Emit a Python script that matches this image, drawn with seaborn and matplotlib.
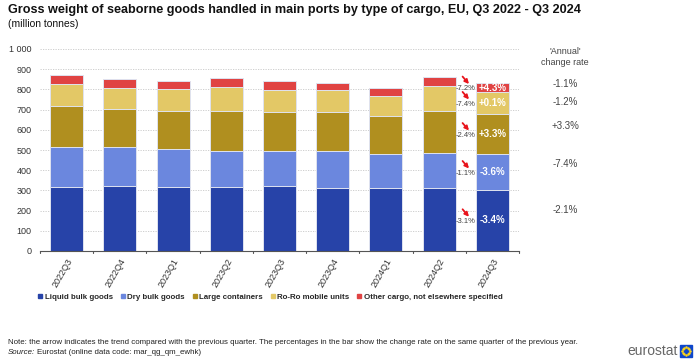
import numpy as np
import pandas as pd
import matplotlib
matplotlib.use('Agg')
import matplotlib.pyplot as plt
from matplotlib.lines import Line2D
from matplotlib.patches import Rectangle
import seaborn as sns

# Données (millions de tonnes)
quarters = ['2022Q3', '2022Q4', '2023Q1', '2023Q2', '2023Q3',
            '2023Q4', '2024Q1', '2024Q2', '2024Q3']
cargo_types = ['Liquid bulk goods', 'Dry bulk goods', 'Large containers',
               'Ro-Ro mobile units', 'Other cargo, not elsewhere specified']
liquid_bulk = [319, 322, 318, 315, 320, 314, 310, 313, 303]
dry_bulk = [198, 195, 187, 178, 175, 179, 168, 172, 175]
large_containers = [202, 187, 187, 202, 194, 193, 191, 210, 201]
roro_units = [107, 103, 108, 116, 107, 110, 98, 121, 107]
other_cargo = [43, 44, 43, 47, 45, 37, 41, 43, 45]

# Taux de variation (dernier trimestre)
annual_in_bar = ['-3.4%', '-3.6%', '+3.3%', '+0.1%', '+4.3%']   # bas -> haut
quarter_change = ['-3.1%', '-1.1%', '-2.4%', '-7.4%', '-7.2%']  # bas -> haut
annual_right = ['-2.1%', '-7.4%', '+3.3%', '-1.2%', '-1.1%']    # bas -> haut
annual_right_y = [203, 431, 620, 739, 828]

colors = ['#2743a8', '#6b87de', '#b08f1f', '#e3c866', '#e04343']

series = [liquid_bulk, dry_bulk, large_containers, roro_units, other_cargo]
df = pd.DataFrame({'quarter': quarters})
for name, vals in zip(cargo_types, series):
    df[name] = vals
cum = df[cargo_types].cumsum(axis=1)

sns.set_theme(style='white')
plt.rcParams['font.family'] = ['Liberation Sans', 'DejaVu Sans']

fig = plt.figure(figsize=(7, 3.63), dpi=100)
ax = fig.add_axes([40 / 700, 1 - 251 / 363, 479 / 700, 202 / 363])

# Barres empilées : on superpose les cumuls, du haut vers le bas
for i in range(len(cargo_types) - 1, -1, -1):
    sns.barplot(x=df['quarter'], y=cum[cargo_types[i]], color=colors[i],
                width=0.62, saturation=1, edgecolor='#dfe3f0', linewidth=0.7,
                ax=ax, zorder=2)

ax.set_xlim(-0.5, len(quarters) - 0.5)
ax.set_ylim(0, 1000)
ax.set_yticks(range(0, 1001, 100))
ax.set_yticklabels([f'{v:,}'.replace(',', ' ') for v in range(0, 1001, 100)],
                   fontsize=6.5, color='#333333')
ax.yaxis.grid(True, linestyle=(0, (1.5, 1.5)), color='#c8c8c8', linewidth=0.6, zorder=0)
ax.set_axisbelow(True)
ax.set_xlabel('')
ax.set_ylabel('')
for s in ['top', 'right', 'left']:
    ax.spines[s].set_visible(False)
ax.spines['bottom'].set_color('#555555')
ax.spines['bottom'].set_linewidth(0.8)

ax.set_xticks(range(len(quarters)))
ax.set_xticklabels(quarters, rotation=60, ha='right', rotation_mode='anchor',
                   fontsize=6.5, color='#333333')
ax.tick_params(axis='x', length=0, pad=4)
ax.tick_params(axis='y', length=0, pad=6)
# petites graduations entre catégories
for b in np.arange(-0.5, len(quarters), 1.0):
    ax.plot([b, b], [0, -12], color='#555555', lw=0.8, clip_on=False)

# Annotations sur la dernière barre
last = len(quarters) - 1
bottoms = [0] + list(cum.iloc[last, :-1])
for i in range(len(cargo_types)):
    h = series[i][last]
    yc = bottoms[i] + h / 2
    ax.text(last, yc, annual_in_bar[i], ha='center', va='center',
            color='white', fontsize=7, fontweight='bold', zorder=5)
    # flèche rouge + variation trimestrielle
    ax.annotate('', xy=(last - 0.44, yc + 18), xytext=(last - 0.56, yc + 55),
                arrowprops=dict(arrowstyle='-|>', color='#e8141c', lw=1.3,
                                mutation_scale=6, shrinkA=0, shrinkB=0),
                annotation_clip=False)
    ax.text(last - 0.5, yc - 5, quarter_change[i], ha='center', va='center',
            color='#444444', fontsize=5.5, zorder=5)

trans = matplotlib.transforms.blended_transform_factory(ax.transAxes, ax.transData)
for lab, yy in zip(annual_right, annual_right_y):
    ax.text(1.096, yy, lab, transform=trans, ha='center', va='center',
            fontsize=7, color='#444444', clip_on=False)
fig.text(565 / 700, 1 - 57 / 363, "'Annual'\nchange rate", ha='center', va='center',
         fontsize=6.5, color='#444444', linespacing=1.2)

# Titres
fig.text(8 / 700, 1 - 10 / 363, 'Gross weight of seaborne goods handled in main ports by type of cargo, EU, Q3 2022 - Q3 2024',
         fontsize=9.1, fontweight='bold', va='center', color='#111111')
fig.text(8 / 700, 1 - 24 / 363, '(million tonnes)', fontsize=7.5, va='center', color='#111111')

# Légende
handles = [Line2D([0], [0], marker='s', linestyle='', markersize=3.0,
                  markerfacecolor=c, markeredgecolor=c) for c in colors]
fig.legend(handles, cargo_types, loc='center left', bbox_to_anchor=(34 / 700, 1 - 297 / 363),
           ncol=5, frameon=False, handlelength=0.6, handletextpad=0.3,
           columnspacing=0.9, borderpad=0, prop={'size': 5.7, 'weight': 'bold'})

# Pied de page
fig.text(8 / 700, 1 - 343 / 363,
         'Note: the arrow indicates the trend compared with the previous quarter. The percentages in the bar show the change rate on the same quarter of the previous year.',
         fontsize=5.7, va='center', color='#222222')
src = fig.text(8 / 700, 1 - 353 / 363, 'Source:', fontsize=5.7, va='center',
               style='italic', color='#222222')
fig.canvas.draw()
bb = src.get_window_extent()
fig.text((bb.x1 + 2) / 700, 1 - 353 / 363, 'Eurostat (online data code: mar_qg_qm_ewhk)',
         fontsize=5.7, va='center', color='#222222')

# Logo eurostat
fig.text(678 / 700, 1 - 351 / 363, 'eurostat', ha='right', va='center',
         fontsize=10, color='#666666')
fig.patches.append(Rectangle((680 / 700, 1 - 357 / 363), 12 / 700, 12 / 363,
                             transform=fig.transFigure, color='#0e47cb'))
ang = np.linspace(0, 2 * np.pi, 12, endpoint=False)
fig.add_artist(Line2D(686 / 700 + 3.6 * np.cos(ang) / 700,
                      1 - 351 / 363 + 3.6 * np.sin(ang) / 363,
                      transform=fig.transFigure, marker='o', markersize=0.8,
                      linestyle='', color='#ffd617'))

fig.savefig('out.png', dpi=100, facecolor='white')
